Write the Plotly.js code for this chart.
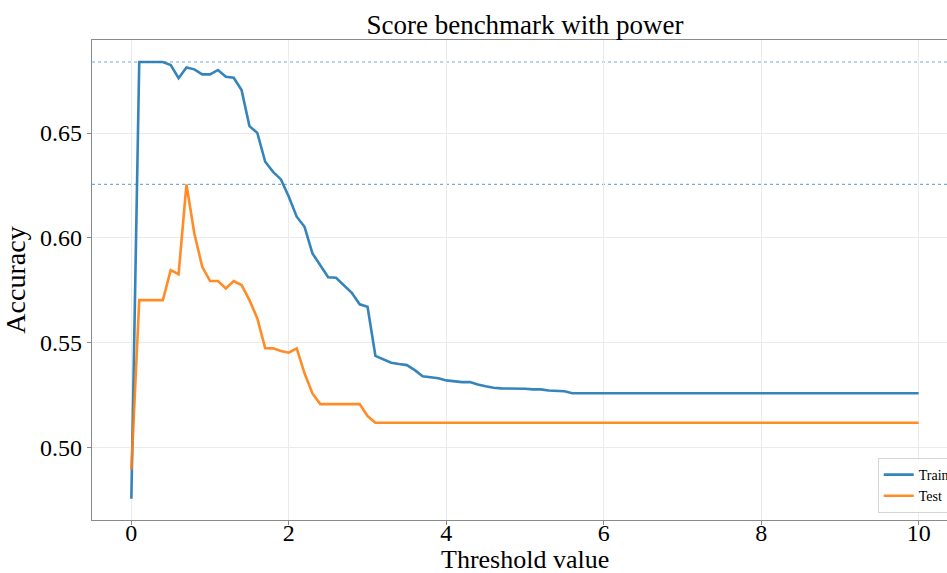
<!DOCTYPE html>
<html>
<head>
<meta charset="utf-8">
<script src="https://cdn.plot.ly/plotly-3.0.1.min.js"></script>
<style>
html, body { margin: 0; padding: 0; overflow: hidden; background: #fff; }
#chart { width: 960px; height: 573px; }
</style>
</head>
<body>
<div id="chart"></div>
<script>
const thresholds = [
  0.0, 0.1, 0.2, 0.3, 0.4, 0.5, 0.6, 0.7, 0.8, 0.9,
  1.0, 1.1, 1.2, 1.3, 1.4, 1.5, 1.6, 1.7, 1.8, 1.9,
  2.0, 2.1, 2.2, 2.3, 2.4, 2.5, 2.6, 2.7, 2.8, 2.9,
  3.0, 3.1, 3.2, 3.3, 3.4, 3.5, 3.6, 3.7, 3.8, 3.9,
  4.0, 4.1, 4.2, 4.3, 4.4, 4.5, 4.6, 4.7, 4.8, 4.9,
  5.0, 5.1, 5.2, 5.3, 5.4, 5.5, 5.6, 5.7, 5.8, 5.9,
  6.0, 6.1, 6.2, 6.3, 6.4, 6.5, 6.6, 6.7, 6.8, 6.9,
  7.0, 7.1, 7.2, 7.3, 7.4, 7.5, 7.6, 7.7, 7.8, 7.9,
  8.0, 8.1, 8.2, 8.3, 8.4, 8.5, 8.6, 8.7, 8.8, 8.9,
  9.0, 9.1, 9.2, 9.3, 9.4, 9.5, 9.6, 9.7, 9.8, 9.9,
  10.0
];

const trainAcc = [
  0.4755, 0.6839, 0.6839, 0.6839, 0.6839, 0.6824, 0.6762, 0.6813, 0.6804, 0.6780,
  0.6780, 0.6801, 0.6769, 0.6764, 0.6705, 0.6533, 0.6501, 0.6363, 0.6315, 0.6279,
  0.6196, 0.6101, 0.6053, 0.5926, 0.5867, 0.5812, 0.5810, 0.5775, 0.5738, 0.5683,
  0.5671, 0.5437, 0.5420, 0.5404, 0.5398, 0.5393, 0.5369, 0.5340, 0.5335, 0.5330,
  0.5320, 0.5315, 0.5312, 0.5312, 0.5300, 0.5292, 0.5285, 0.5282, 0.5282, 0.5282,
  0.5280, 0.5277, 0.5277, 0.5272, 0.5269, 0.5268, 0.5259, 0.5259, 0.5259, 0.5259,
  0.5259, 0.5259, 0.5259, 0.5259, 0.5259, 0.5259, 0.5259, 0.5259, 0.5259, 0.5259,
  0.5259, 0.5259, 0.5259, 0.5259, 0.5259, 0.5259, 0.5259, 0.5259, 0.5259, 0.5259,
  0.5259, 0.5259, 0.5259, 0.5259, 0.5259, 0.5259, 0.5259, 0.5259, 0.5259, 0.5259,
  0.5259, 0.5259, 0.5259, 0.5259, 0.5259, 0.5259, 0.5259, 0.5259, 0.5259, 0.5259,
  0.5259
];

const testAcc = [
  0.4894, 0.5703, 0.5703, 0.5703, 0.5703, 0.5846, 0.5827, 0.6255, 0.6021, 0.5862,
  0.5794, 0.5794, 0.5759, 0.5794, 0.5775, 0.5703, 0.5616, 0.5474, 0.5473, 0.5460,
  0.5452, 0.5473, 0.5354, 0.5258, 0.5207, 0.5207, 0.5207, 0.5207, 0.5207, 0.5207,
  0.5150, 0.5118, 0.5118, 0.5118, 0.5118, 0.5118, 0.5118, 0.5118, 0.5118, 0.5118,
  0.5118, 0.5118, 0.5118, 0.5118, 0.5118, 0.5118, 0.5118, 0.5118, 0.5118, 0.5118,
  0.5118, 0.5118, 0.5118, 0.5118, 0.5118, 0.5118, 0.5118, 0.5118, 0.5118, 0.5118,
  0.5118, 0.5118, 0.5118, 0.5118, 0.5118, 0.5118, 0.5118, 0.5118, 0.5118, 0.5118,
  0.5118, 0.5118, 0.5118, 0.5118, 0.5118, 0.5118, 0.5118, 0.5118, 0.5118, 0.5118,
  0.5118, 0.5118, 0.5118, 0.5118, 0.5118, 0.5118, 0.5118, 0.5118, 0.5118, 0.5118,
  0.5118, 0.5118, 0.5118, 0.5118, 0.5118, 0.5118, 0.5118, 0.5118, 0.5118, 0.5118,
  0.5118
];

const seriesNames = ["Train", "Test"];
const xTickVals = [0, 2, 4, 6, 8, 10];
const yTickVals = [0.50, 0.55, 0.60, 0.65];

const SERIF = "'Liberation Serif', 'DejaVu Serif', serif";

const traces = [
  {
    x: thresholds, y: trainAcc, name: seriesNames[0], type: "scatter", mode: "lines",
    line: { color: "#1f77b4", width: 2.6 }, opacity: 0.9
  },
  {
    x: thresholds, y: testAcc, name: seriesNames[1], type: "scatter", mode: "lines",
    line: { color: "#ff7f0e", width: 2.6 }, opacity: 0.9
  }
];

const maxTrain = Math.max(...trainAcc);
const maxTest = Math.max(...testAcc);

const layout = {
  width: 960, height: 573,
  margin: { l: 92, r: 2, t: 40, b: 53 },
  paper_bgcolor: "#ffffff",
  plot_bgcolor: "#ffffff",
  font: { family: SERIF, color: "#000" },
  title: {
    text: "Score benchmark with power",
    font: { family: SERIF, size: 27, color: "#000" },
    x: 0.5, xref: "paper", xanchor: "center",
    y: 0.958, yref: "container", yanchor: "middle"
  },
  xaxis: {
    range: [-0.5, 10.5],
    tickvals: xTickVals,
    ticktext: xTickVals.map(String),
    tickfont: { family: SERIF, size: 24, color: "#000" },
    ticklabelstandoff: -13,
    showgrid: true, gridcolor: "#ebebeb", gridwidth: 1,
    zeroline: false,
    showline: true, linecolor: "#8a8a8a", linewidth: 1.2, mirror: true,
    ticks: "outside", ticklen: 4, tickcolor: "#8a8a8a",
    automargin: false
  },
  yaxis: {
    range: [0.4654, 0.6944],
    tickvals: yTickVals,
    ticktext: yTickVals.map(v => v.toFixed(2)),
    tickfont: { family: SERIF, size: 24, color: "#000" },
    showgrid: true, gridcolor: "#ebebeb", gridwidth: 1,
    zeroline: false,
    showline: true, linecolor: "#8a8a8a", linewidth: 1.2, mirror: true,
    ticks: "outside", ticklen: 4, tickcolor: "#8a8a8a",
    title: { text: "Accuracy", font: { family: SERIF, size: 28, color: "#000" }, standoff: 6 },
    automargin: false
  },
  annotations: [
    { text: "Threshold value", showarrow: false,
      xref: "paper", x: 0.5, xanchor: "center",
      yref: "paper", y: -0.0815, yanchor: "middle",
      font: { family: SERIF, size: 26, color: "#000" } }
  ],
  shapes: [
    { type: "line", xref: "paper", x0: 0, x1: 1, yref: "y", y0: maxTrain, y1: maxTrain,
      line: { color: "rgba(31,119,180,0.6)", width: 1.2, dash: "dot" }, layer: "below" },
    { type: "line", xref: "paper", x0: 0, x1: 1, yref: "y", y0: maxTest, y1: maxTest,
      line: { color: "rgba(31,119,180,0.6)", width: 1.2, dash: "dot" }, layer: "below" }
  ],
  showlegend: true,
  legend: {
    x: 0.9073, xanchor: "left", xref: "paper",
    y: 0.0146, yanchor: "bottom", yref: "paper",
    bgcolor: "rgba(255,255,255,0.85)",
    bordercolor: "#d5d5d5", borderwidth: 1,
    font: { family: SERIF, size: 14, color: "#000" },
    tracegroupgap: 0
  }
};

Plotly.newPlot("chart", traces, layout, { displayModeBar: false, responsive: false, staticPlot: true });
</script>
</body>
</html>
